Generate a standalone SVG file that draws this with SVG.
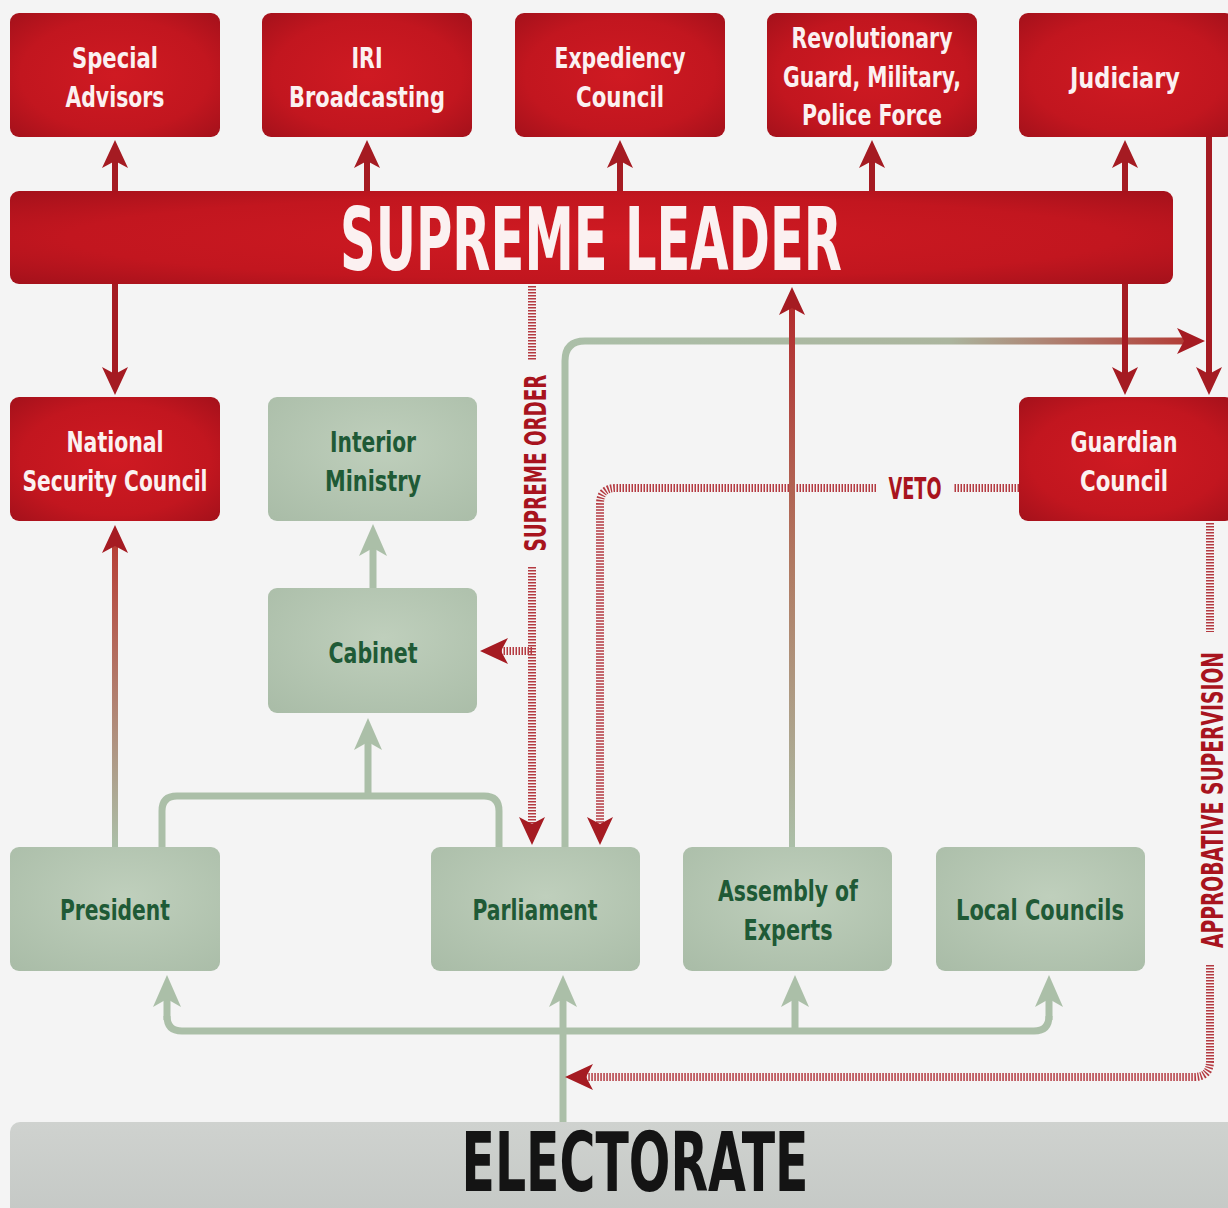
<svg xmlns="http://www.w3.org/2000/svg" width="1228" height="1208" viewBox="0 0 1228 1208">
<defs>
<style>
.lbl{font-family:"Liberation Sans Narrow","DejaVu Sans Condensed","Liberation Sans",sans-serif;font-stretch:condensed;font-weight:bold;text-anchor:middle}
.w{fill:#fbf1f1;font-size:29px}
.g{fill:#1f5a36;font-size:29px}
.big{font-size:88px}
.cl{fill:#a8141e;font-size:31px}
.red{fill:url(#redBox)}
.grn{fill:url(#grnBox)}
.sr{fill:none;stroke:#a51b22;stroke-width:6}
.sg{fill:none;stroke:#abbfa8;stroke-width:7}
.dash{fill:none;stroke:#b43a41;stroke-width:8;stroke-dasharray:1.5 1.5}
.ar{marker-end:url(#ahRed)}
.ag{marker-end:url(#ahGrn)}
</style>
<radialGradient id="redBox" cx="0.5" cy="0.5" r="0.75">
<stop offset="0" stop-color="#cf1a22"/>
<stop offset="0.6" stop-color="#c2161f"/>
<stop offset="1" stop-color="#9e101a"/>
</radialGradient>
<radialGradient id="grnBox" cx="0.55" cy="0.4" r="0.8">
<stop offset="0" stop-color="#bfcfbc"/>
<stop offset="1" stop-color="#a9bca7"/>
</radialGradient>
<linearGradient id="elecBox" x1="0" y1="0" x2="0" y2="1">
<stop offset="0" stop-color="#cfd2cf"/>
<stop offset="1" stop-color="#c4c8c5"/>
</linearGradient>
<linearGradient id="gH" gradientUnits="userSpaceOnUse" x1="565" y1="0" x2="1205" y2="0">
<stop offset="0" stop-color="#abbfa8"/>
<stop offset="0.6" stop-color="#abb59e"/>
<stop offset="1" stop-color="#b3332e"/>
</linearGradient>
<linearGradient id="gNSC" gradientUnits="userSpaceOnUse" x1="0" y1="847" x2="0" y2="525">
<stop offset="0" stop-color="#abbfa8"/>
<stop offset="1" stop-color="#b8362e"/>
</linearGradient>
<linearGradient id="gAE" gradientUnits="userSpaceOnUse" x1="0" y1="847" x2="0" y2="287">
<stop offset="0" stop-color="#abbfa8"/>
<stop offset="0.5" stop-color="#b07a62"/>
<stop offset="1" stop-color="#b3262a"/>
</linearGradient>
<marker id="ahRed" markerUnits="userSpaceOnUse" markerWidth="28" markerHeight="26" viewBox="0 0 28 26" refX="19" refY="13" orient="auto">
<path d="M0,0 L28,13 L0,26 L7,13 Z" fill="#a51b22"/>
</marker>
<marker id="ahGrn" markerUnits="userSpaceOnUse" markerWidth="32" markerHeight="28" viewBox="0 0 32 28" refX="22" refY="14" orient="auto">
<path d="M0,0 L32,14 L0,28 L8,14 Z" fill="#abbfa8"/>
</marker>
</defs>
<rect x="0" y="0" width="1228" height="1208" fill="#f4f4f4"/>

<g id="connectors">
<path class="sg ag" d="M373,588 V534"/>
<path class="sg" d="M162,847 V811 Q162,796 177,796 H484 Q499,796 499,811 V847"/>
<path class="sg ag" d="M368,796 V728"/>
<path class="sg" d="M167,1016 Q167,1031 182,1031 H1034 Q1049,1031 1049,1016"/>
<path class="sg ag" d="M167,1020 V985"/>
<path class="sg ag" d="M795,1031 V985"/>
<path class="sg ag" d="M1049,1020 V985"/>
<path class="sg ag" d="M563,1122 V985"/>
<path fill="none" stroke="url(#gH)" stroke-width="7" class="ar" d="M565,847 V361 Q565,341 585,341 H1196"/>
<path class="dash" d="M532,286 V360"/>
<path class="dash ar" d="M532,567 V836"/>
<path class="dash ar" d="M532,651 H489"/>
<path class="dash" d="M1019,488 H953"/>
<path class="dash ar" d="M876,488 H616 Q600,488 600,504 V836"/>
<path class="dash" d="M1210,523 V632"/>
<path class="dash ar" d="M1210,965 V1061 Q1210,1077 1194,1077 H574"/>
<text class="lbl cl" transform="translate(546,463) rotate(-90)" textLength="177" lengthAdjust="spacingAndGlyphs">SUPREME ORDER</text>
<text class="lbl cl" x="915" y="499" textLength="53" lengthAdjust="spacingAndGlyphs">VETO</text>
<text class="lbl cl" transform="translate(1223,800) rotate(-90)" textLength="296" lengthAdjust="spacingAndGlyphs">APPROBATIVE SUPERVISION</text>
<path fill="none" stroke="url(#gNSC)" stroke-width="6" class="ar" d="M115,847 V534"/>
<path fill="none" stroke="url(#gAE)" stroke-width="6" class="ar" d="M792,847 V296"/>
<path class="sr ar" d="M115,191 V149"/>
<path class="sr ar" d="M367,191 V149"/>
<path class="sr ar" d="M620,191 V149"/>
<path class="sr ar" d="M872,191 V149"/>
<path class="sr ar" d="M1125,191 V149"/>
<path class="sr ar" d="M115,284 V386"/>
<path class="sr ar" d="M1125,284 V386"/>
<path class="sr ar" d="M1209,137 V386"/>
</g>

<g id="special-advisors">
<rect class="red" x="10" y="13" width="210" height="124" rx="9"/>
<text class="lbl w" x="115" y="68" textLength="86" lengthAdjust="spacingAndGlyphs">Special</text>
<text class="lbl w" x="115" y="107" textLength="99" lengthAdjust="spacingAndGlyphs">Advisors</text>
</g>
<g id="iri-broadcasting">
<rect class="red" x="262" y="13" width="210" height="124" rx="9"/>
<text class="lbl w" x="367" y="68" textLength="31" lengthAdjust="spacingAndGlyphs">IRI</text>
<text class="lbl w" x="367" y="107" textLength="156" lengthAdjust="spacingAndGlyphs">Broadcasting</text>
</g>
<g id="expediency-council">
<rect class="red" x="515" y="13" width="210" height="124" rx="9"/>
<text class="lbl w" x="620" y="68" textLength="131" lengthAdjust="spacingAndGlyphs">Expediency</text>
<text class="lbl w" x="620" y="107" textLength="88" lengthAdjust="spacingAndGlyphs">Council</text>
</g>
<g id="revolutionary-guard">
<rect class="red" x="767" y="13" width="210" height="124" rx="9"/>
<text class="lbl w" x="872" y="48" textLength="161" lengthAdjust="spacingAndGlyphs">Revolutionary</text>
<text class="lbl w" x="872" y="87" textLength="178" lengthAdjust="spacingAndGlyphs">Guard, Military,</text>
<text class="lbl w" x="872" y="125" textLength="140" lengthAdjust="spacingAndGlyphs">Police Force</text>
</g>
<g id="judiciary">
<rect class="red" x="1019" y="13" width="215" height="124" rx="9"/>
<text class="lbl w" x="1125" y="88" textLength="110" lengthAdjust="spacingAndGlyphs">Judiciary</text>
</g>
<g id="supreme-leader">
<rect class="red" x="10" y="191" width="1163" height="93" rx="9"/>
<text class="lbl w big" x="591" y="270" textLength="502" lengthAdjust="spacingAndGlyphs">SUPREME LEADER</text>
</g>
<g id="national-security-council">
<rect class="red" x="10" y="397" width="210" height="124" rx="9"/>
<text class="lbl w" x="115" y="452" textLength="97" lengthAdjust="spacingAndGlyphs">National</text>
<text class="lbl w" x="115" y="491" textLength="185" lengthAdjust="spacingAndGlyphs">Security Council</text>
</g>
<g id="interior-ministry">
<rect class="grn" x="268" y="397" width="209" height="124" rx="9"/>
<text class="lbl g" x="373" y="452" textLength="86" lengthAdjust="spacingAndGlyphs">Interior</text>
<text class="lbl g" x="373" y="491" textLength="96" lengthAdjust="spacingAndGlyphs">Ministry</text>
</g>
<g id="cabinet">
<rect class="grn" x="268" y="588" width="209" height="125" rx="9"/>
<text class="lbl g" x="373" y="663" textLength="89" lengthAdjust="spacingAndGlyphs">Cabinet</text>
</g>
<g id="guardian-council">
<rect class="red" x="1019" y="397" width="215" height="124" rx="9"/>
<text class="lbl w" x="1124" y="452" textLength="107" lengthAdjust="spacingAndGlyphs">Guardian</text>
<text class="lbl w" x="1124" y="491" textLength="88" lengthAdjust="spacingAndGlyphs">Council</text>
</g>
<g id="president">
<rect class="grn" x="10" y="847" width="210" height="124" rx="9"/>
<text class="lbl g" x="115" y="920" textLength="110" lengthAdjust="spacingAndGlyphs">President</text>
</g>
<g id="parliament">
<rect class="grn" x="431" y="847" width="209" height="124" rx="9"/>
<text class="lbl g" x="535" y="920" textLength="125" lengthAdjust="spacingAndGlyphs">Parliament</text>
</g>
<g id="assembly-of-experts">
<rect class="grn" x="683" y="847" width="209" height="124" rx="9"/>
<text class="lbl g" x="788" y="901" textLength="140" lengthAdjust="spacingAndGlyphs">Assembly of</text>
<text class="lbl g" x="788" y="940" textLength="89" lengthAdjust="spacingAndGlyphs">Experts</text>
</g>
<g id="local-councils">
<rect class="grn" x="936" y="847" width="209" height="124" rx="9"/>
<text class="lbl g" x="1040" y="920" textLength="168" lengthAdjust="spacingAndGlyphs">Local Councils</text>
</g>
<g id="electorate">
<rect x="10" y="1122" width="1230" height="100" rx="10" fill="url(#elecBox)"/>
<text class="lbl" x="635" y="1191" fill="#141414" font-size="82" textLength="347" lengthAdjust="spacingAndGlyphs">ELECTORATE</text>
</g>
</svg>
